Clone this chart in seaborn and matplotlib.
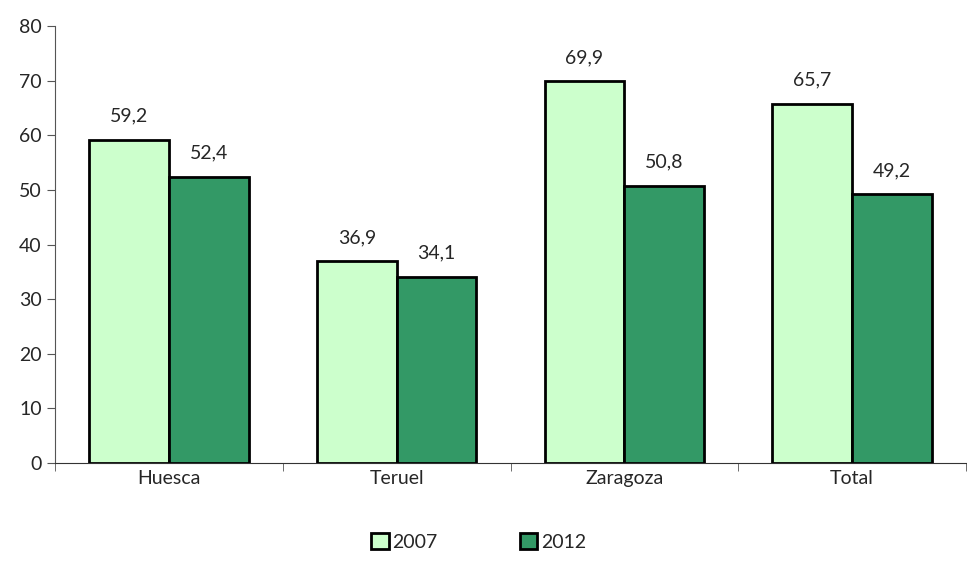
import seaborn as sns
import matplotlib.pyplot as plt
import pandas as pd

categorias = ['Huesca', 'Teruel', 'Zaragoza', 'Total']
anios = ['2007', '2012']
valores_2007 = [59.2, 36.9, 69.9, 65.7]
valores_2012 = [52.4, 34.1, 50.8, 49.2]
colores = ['#CCFFCC', '#339966']

df = pd.DataFrame({
    'zona': categorias * 2,
    'anio': [anios[0]] * 4 + [anios[1]] * 4,
    'valor': valores_2007 + valores_2012,
})

sns.set_style('ticks')
plt.rcParams['font.family'] = ['Lato', 'DejaVu Sans']

fig = plt.figure(figsize=(9.67, 5.71), dpi=100)
ax = fig.add_axes([55 / 967, (571 - 463) / 571, (966 - 55) / 967, (463 - 26) / 571])

sns.barplot(data=df, x='zona', y='valor', hue='anio', palette=colores, saturation=1,
            width=0.7, edgecolor='black', linewidth=2, ax=ax)

# etiquetas con coma decimal
for cont in ax.containers:
    ax.bar_label(cont, labels=[f'{v:.1f}'.replace('.', ',') for v in cont.datavalues],
                 padding=11, fontsize=14)

ax.set_ylim(0, 80)
ax.set_yticks(range(0, 81, 10))
ax.set_xlim(-0.5, 3.5)
ax.set_xticks([-0.5, 0.5, 1.5, 2.5, 3.5], minor=True)
ax.tick_params(axis='x', which='major', length=0, pad=5, labelsize=14)
ax.tick_params(axis='x', which='minor', length=6, color='#555555')
ax.tick_params(axis='y', length=6, labelsize=14, color='#555555')
ax.set_xlabel('')
ax.set_ylabel('')
for s in ['top', 'right']:
    ax.spines[s].set_visible(False)
ax.spines['left'].set_color('#555555')
ax.spines['bottom'].set_color('#333333')

ax.legend(loc='upper center', bbox_to_anchor=(0.465, -0.12), ncol=2, frameon=False,
          fontsize=14, handlelength=0.9, handleheight=0.9, handletextpad=0.2,
          columnspacing=4.2)

fig.savefig('out.png', dpi=100)
